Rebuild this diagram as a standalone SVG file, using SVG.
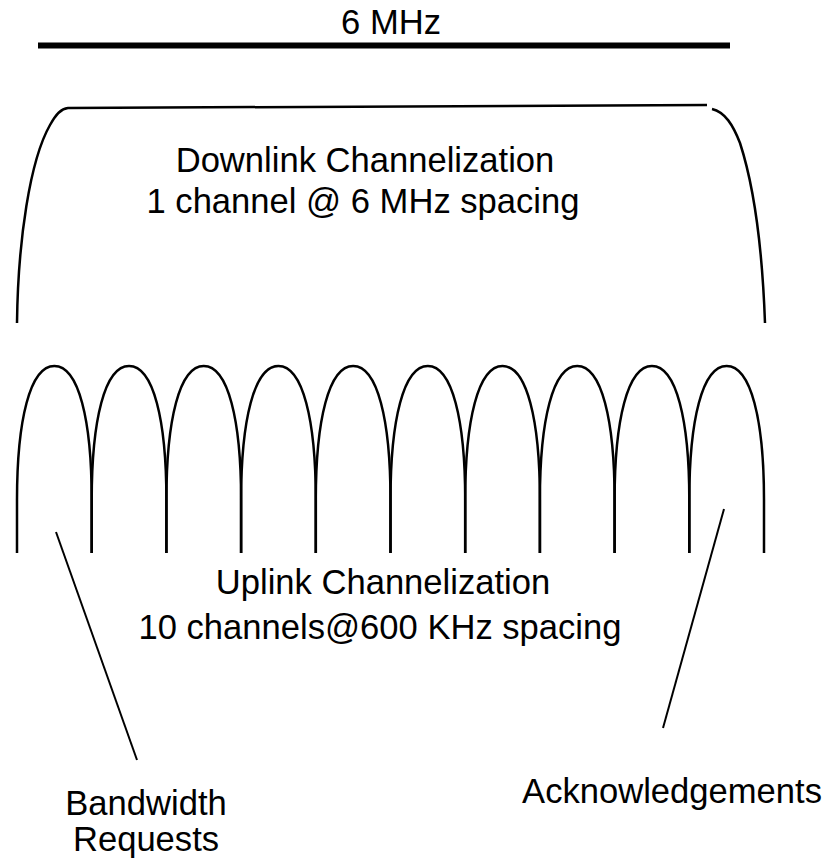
<svg xmlns="http://www.w3.org/2000/svg" xmlns:xlink="http://www.w3.org/1999/xlink" width="825" height="859" viewBox="0 0 825 859">
  <style>
    .lbl { font-family: "Liberation Sans", Arial, sans-serif; font-size: 34.6px; fill: #000; text-anchor: middle; }
    .curve { fill: none; stroke: #000; stroke-width: 2.5; stroke-linecap: butt; stroke-linejoin: round; }
    .lead { fill: none; stroke: #000; stroke-width: 2; }
  </style>
  <defs>
    <!-- one uplink channel lobe, base at x=0 -->
    <path id="lobe" d="M0,553 L0,500 C0,420 13,366 37.35,366 C61.7,366 74.7,420 74.7,500 L74.7,553"/>
  </defs>
  <rect width="825" height="859" fill="#fff"/>

  <!-- total bandwidth bar -->
  <g id="bandwidth">
    <line x1="38" y1="45.5" x2="730" y2="45.5" stroke="#000" stroke-width="6"/>
    <text class="lbl" x="391" y="34">6 MHz</text>
  </g>

  <!-- downlink: a single wide channel -->
  <g id="downlink">
    <path class="curve" d="M17,323 C18,240 30,160 50,125 C56,114 61,108.5 68,108 L707,105"/>
    <path class="curve" d="M712,109 C725,112 733,125 740,143 C752,180 762,240 765,323"/>
    <text class="lbl" x="365" y="172">Downlink Channelization</text>
    <text class="lbl" x="363" y="213">1 channel @ 6 MHz spacing</text>
  </g>

  <!-- uplink: ten narrow channels -->
  <g id="uplink">
    <use xlink:href="#lobe" class="curve" x="17"/>
    <use xlink:href="#lobe" class="curve" x="91.7"/>
    <use xlink:href="#lobe" class="curve" x="166.4"/>
    <use xlink:href="#lobe" class="curve" x="241.1"/>
    <use xlink:href="#lobe" class="curve" x="315.8"/>
    <use xlink:href="#lobe" class="curve" x="390.5"/>
    <use xlink:href="#lobe" class="curve" x="465.2"/>
    <use xlink:href="#lobe" class="curve" x="539.9"/>
    <use xlink:href="#lobe" class="curve" x="614.6"/>
    <use xlink:href="#lobe" class="curve" x="689.3"/>
    <text class="lbl" x="383" y="594">Uplink Channelization</text>
    <text class="lbl" x="380" y="639">10 channels@600 KHz spacing</text>
  </g>

  <!-- callout leaders -->
  <g id="connectors">
    <line class="lead" x1="56" y1="532" x2="137" y2="760"/>
    <line class="lead" x1="724" y1="509" x2="663" y2="728"/>
  </g>

  <g id="requests">
    <text class="lbl" x="146" y="815">Bandwidth</text>
    <text class="lbl" x="146" y="851">Requests</text>
  </g>

  <g id="acks">
    <text class="lbl" x="672" y="803">Acknowledgements</text>
  </g>
</svg>
